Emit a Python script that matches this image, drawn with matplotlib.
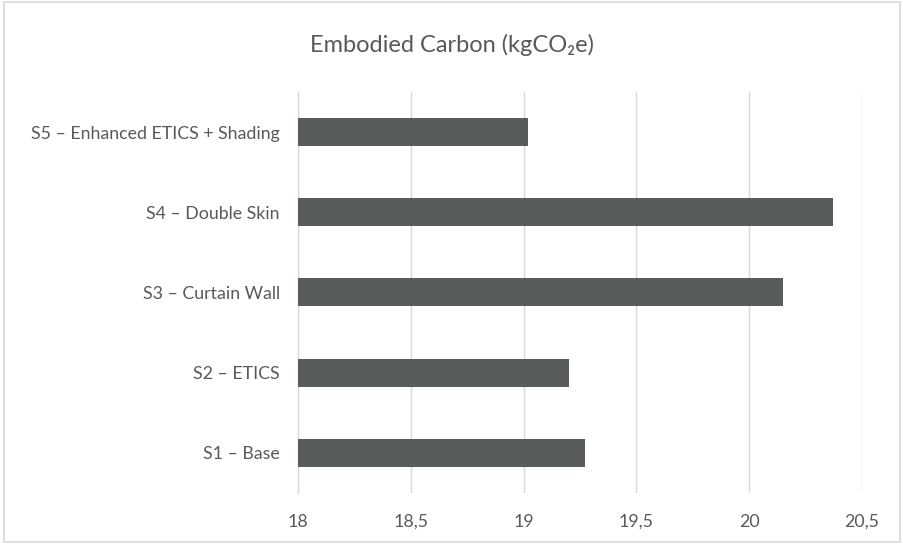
import matplotlib.pyplot as plt
import numpy as np

# data
scenarios = ["S1 – Base", "S2 – ETICS", "S3 – Curtain Wall",
             "S4 – Double Skin", "S5 – Enhanced ETICS + Shading"]
carbon = [19.27, 19.20, 20.15, 20.37, 19.02]
x_ticks = [18, 18.5, 19, 19.5, 20, 20.5]
x_tick_labels = ["18", "18,5", "19", "19,5", "20", "20,5"]

plt.rcParams['font.family'] = ['Lato', 'DejaVu Sans']

fig = plt.figure(figsize=(9.04, 5.44), dpi=100)
ax = fig.add_axes([0.3297, 0.0938, 0.6238, 0.7372])

y_pos = np.arange(len(scenarios))
ax.barh(y_pos, carbon, height=0.35, color='#595c5d', zorder=3)

ax.set_xlim(18, 20.5)
ax.set_ylim(-0.5, len(scenarios) - 0.5)
ax.set_xticks(x_ticks)
ax.set_xticklabels(x_tick_labels)
ax.set_yticks(y_pos)
ax.set_yticklabels(scenarios)

ax.grid(axis='x', color='#d9d9d9', linewidth=1.0, zorder=0)
for s in ['top', 'right', 'bottom']:
    ax.spines[s].set_visible(False)
ax.spines['left'].set_color('#d9d9d9')
ax.spines['left'].set_linewidth(1.0)

ax.tick_params(axis='both', length=0, labelsize=12.8, colors='#595959')
ax.tick_params(axis='y', pad=13)
ax.tick_params(axis='x', pad=15)

fig.text(0.5, 0.917, "Embodied Carbon (kgCO₂e)", ha='center', va='center',
         fontsize=17, color='#595959')

# chart border
fig.patches.append(plt.Rectangle((0.004, 0.004), 0.992, 0.992, transform=fig.transFigure,
                                 fill=False, edgecolor='#d9d9d9', linewidth=1.2))

fig.savefig("out.png", dpi=100)
